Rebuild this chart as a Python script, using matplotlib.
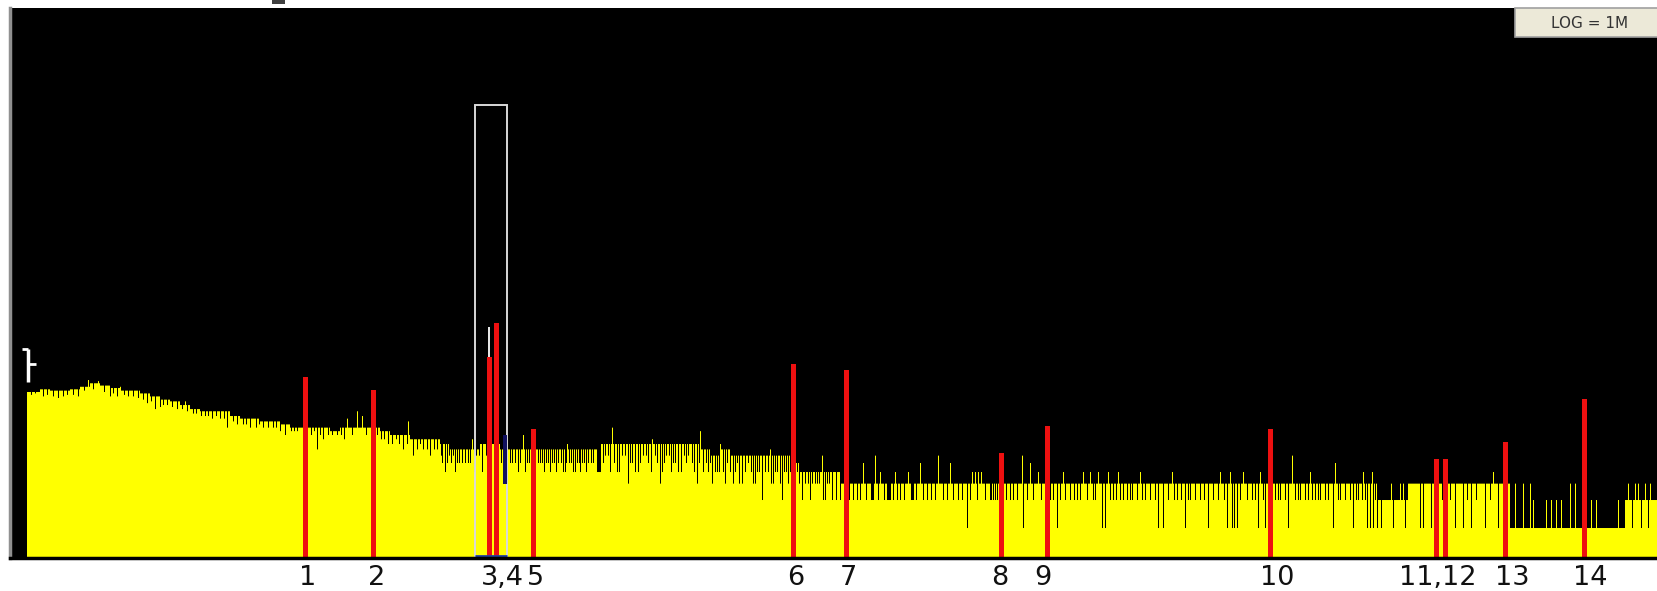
import numpy as np
import matplotlib
matplotlib.use("Agg")
import matplotlib.pyplot as plt
from matplotlib.patches import Rectangle
from matplotlib.transforms import blended_transform_factory

# Spectrum: base level per block (block start channel, counts)
base_start = [27, 40, 50, 60, 70, 80, 90, 100, 110, 120, 130, 140, 150, 160, 170,
              180, 190, 200, 210, 220, 230, 240, 250, 260, 270, 280, 290, 300, 310,
              320, 330, 340, 350, 360, 370, 380, 390, 400, 410, 420, 430, 440, 450,
              460, 470, 480, 490, 500, 510, 520, 530, 540, 550, 560, 570, 580, 590,
              600, 610, 620, 630, 640, 650, 660, 670, 680, 690, 700, 710, 720, 730,
              740, 750, 760, 770, 780, 790, 800, 840, 1378, 1408, 1510, 1625]
base_counts = [29, 31, 30, 30, 31, 33, 36, 34, 32, 30, 30, 28, 26, 24, 23,
               21, 19, 18, 18, 18, 16, 15, 15, 14, 14, 13, 12, 12, 12,
               12, 11, 12, 12, 12, 12, 11, 10, 10, 9, 9, 9, 8, 7,
               7, 7, 8, 8, 7, 7, 7, 7, 7, 7, 7, 7, 7, 7,
               8, 8, 8, 8, 8, 8, 8, 8, 8, 8, 7, 6, 7, 6,
               6, 6, 6, 6, 6, 5, 4, 3, 2, 3, 1, 2]

# single channels that fall below the base level (deeper dips)
dip_ch = [43, 53, 58, 78, 110, 117, 138, 147, 155, 160, 167, 177, 187, 193, 205,
          212, 220, 227, 237, 250, 263, 280, 285, 297,
          317, 323, 337, 352, 388, 403, 413, 423, 430, 445, 457, 465, 482, 507,
          518, 527, 550, 563, 573, 580, 597, 598, 599, 600, 617, 628, 638, 660,
          678, 697, 717, 723, 733, 742, 753, 762, 773, 782, 802, 808, 823, 832,
          853, 860, 871, 872, 873, 887, 888, 889, 890, 900, 911, 912, 913, 927,
          943, 953, 967, 970, 977, 990, 991, 993, 995, 997, 1010, 1017, 1023,
          1033, 1057, 1060, 1070, 1077, 1087, 1095, 1102,
          1105, 1113, 1123, 1127, 1132, 1137, 1145, 1150, 1158, 1163, 1168, 1177,
          1185, 1190, 1195, 1200, 1208, 1213, 1218, 1227, 1232, 1234, 1237, 1247,
          1252, 1258, 1265, 1270, 1275, 1280, 1288, 1295, 1300, 1305, 1315, 1320,
          1325, 1333, 1340, 1345, 1353, 1358, 1362, 1367, 1370, 1373, 1377,
          1381, 1393, 1405, 1420, 1423, 1431, 1436, 1442, 1450, 1455, 1463, 1467,
          1471, 1476, 1485, 1490, 1498, 1503, 1632, 1641, 1648]
dip_counts = [26, 26, 25, 26, 26, 26, 25, 22, 19, 20, 21, 19, 18, 17, 16,
              15, 15, 12, 13, 12, 12, 11, 10, 11,
              7, 9, 10, 10, 8, 7, 6, 7, 6, 4, 5, 5, 4, 3,
              4, 5, 4, 4, 4, 4, 4, 4, 4, 4, 4, 3, 4, 3,
              4, 3, 4, 4, 3, 3, 3, 2, 3, 2, 2, 3, 2, 2,
              2, 2, 2, 2, 2, 2, 2, 2, 2, 2, 2, 2, 2, 2,
              2, 2, 1, 2, 2, 2, 2, 2, 2, 2, 2, 2, 1,
              2, 1, 2, 2, 2, 2, 2, 1,
              1, 2, 2, 2, 2, 2, 2, 2, 1, 1, 2, 2,
              1, 2, 2, 2, 1, 2, 2, 1, 1, 1, 1, 2,
              2, 1, 1, 2, 2, 2, 1, 2, 2, 2, 2, 2,
              2, 1, 2, 2, 1, 2, 2, 1, 1, 1, 1,
              1, 1, 1, 1, 1, 1, 2, 2, 2, 1, 1, 2,
              1, 2, 1, 2, 1, 2, 1, 1, 1]

# shallow dips (the fine jagged edge)
fine_dip_ch = [31, 35, 47, 63, 67, 73, 84, 93, 104, 113, 124, 128, 133, 143, 151,
               163, 172, 182, 196, 201, 208, 216, 224, 233, 243, 246, 256, 259,
               268, 273, 276, 291, 294, 303, 311, 314, 320, 328, 332, 341, 344,
               366, 371, 377, 381, 384, 392, 396, 399, 407, 417, 420, 427, 434,
               437, 441, 449, 453, 468, 476, 479, 486, 512, 515, 531, 538, 542,
               546, 554, 558, 566, 569, 577, 584, 588, 591, 605, 608, 622, 625,
               632, 643, 646, 655, 666, 669, 673, 684, 688, 692, 706, 710, 727,
               730, 737, 745, 748, 757, 765, 768, 777, 786, 790, 797, 812, 815,
               819, 827,
               442, 447, 451, 455, 459, 462, 470, 474, 501, 504, 510, 520, 525,
               529, 540, 544, 548, 552, 556, 561, 565, 571, 575, 579, 582, 586,
               593, 603, 610, 614, 619, 630, 635, 640, 648, 651, 657, 662, 664,
               671, 675, 681, 686, 694, 699, 703, 708, 712, 715, 719, 725, 735,
               739, 751, 755, 759, 771, 775, 780, 784, 788, 793, 799, 805, 810,
               817, 825, 829,
               836, 840, 845, 849, 857, 866, 878, 884, 893, 897, 904, 916, 923,
               931, 935, 947, 958, 962, 985, 1006, 1013, 1027, 1041, 1050, 1053,
               1065, 1074, 1080, 1093, 1110, 1116, 1120, 1130, 1142, 1155, 1174,
               1181, 1188, 1204, 1224, 1240, 1255, 1263, 1278, 1285, 1298, 1308,
               1312, 1318, 1328, 1338, 1350, 1356, 1365, 1375]
fine_dip_counts = [27, 28, 27, 26, 27, 27, 30, 31, 29, 28, 27, 26, 26, 24, 23,
                   21, 20, 19, 17, 16, 16, 16, 15, 14, 13, 13, 12, 13,
                   12, 12, 12, 11, 11, 10, 10, 11, 10, 10, 10, 10, 9,
                   10, 9, 10, 9, 9, 8, 9, 8, 8, 7, 8, 7, 7,
                   7, 6, 6, 6, 5, 6, 6, 6, 5, 5, 5, 5, 5,
                   5, 5, 5, 5, 5, 5, 5, 5, 5, 6, 6, 6, 6,
                   5, 6, 6, 6, 6, 6, 5, 6, 6, 5, 5, 5, 5,
                   4, 5, 4, 5, 4, 4, 4, 4, 4, 4, 4, 3, 3,
                   3, 3,
                   5, 5, 5, 4, 5, 5, 5, 4, 5, 4, 5, 5, 4,
                   5, 5, 4, 5, 5, 4, 5, 4, 5, 4, 5, 5, 4,
                   5, 5, 4, 5, 4, 5, 4, 5, 5, 4, 5, 4, 5,
                   4, 5, 4, 5, 4, 5, 4, 4, 3, 4, 4, 3, 4,
                   3, 4, 3, 4, 3, 4, 3, 4, 3, 4, 3, 3, 2,
                   3, 2, 3,
                   2, 2, 2, 2, 2, 2, 2, 2, 2, 2, 2, 2, 2,
                   2, 2, 2, 2, 2, 2, 2, 2, 2, 2, 2, 2,
                   2, 2, 2, 2, 2, 2, 2, 2, 2, 2, 2,
                   2, 2, 2, 2, 2, 2, 2, 2, 2, 2, 2,
                   2, 2, 2, 2, 2, 2, 2, 2]

# single channels that rise above the base level
spike_ch = [88, 98, 120, 185, 347, 357, 362, 408, 472, 523, 567,
            612, 652, 700, 720, 770, 822,
            833, 863, 875, 880, 895, 908, 920, 938, 950, 972, 975, 978, 981,
            1022, 1030, 1038, 1045, 1063, 1083, 1090, 1098,
            1108, 1118, 1140, 1172, 1220, 1230, 1243, 1260, 1292, 1310, 1335,
            1363, 1372, 1391, 1400, 1403, 1493,
            1515, 1523, 1530, 1533, 1546, 1551, 1556, 1561, 1570, 1575, 1582,
            1591, 1596, 1618, 1628, 1635, 1638, 1645, 1650, 1655]
spike_counts = [39, 38, 33, 23, 15, 18, 16, 14, 9, 10, 8,
                12, 9, 11, 8, 7, 6,
                4, 5, 6, 4, 4, 4, 5, 6, 5, 4, 4, 4, 4,
                6, 5, 4, 5, 4, 4, 4, 4,
                4, 4, 4, 4, 4, 4, 4, 4, 6, 4, 5,
                4, 4, 3, 3, 3, 4,
                3, 3, 3, 2, 2, 2, 2, 2, 3, 3, 9,
                2, 2, 2, 3, 3, 3, 3, 3, 2]

# identified peaks (red)
peak_ch = [306, 374, 490, 497, 534, 794, 847, 1002, 1048, 1271, 1437, 1446, 1506, 1585]
peak_counts = [42, 30, 69, 160, 11, 57, 50, 6, 12, 11, 5, 5, 8, 24]
label_text = ["1", "2", "3,4", "5", "6", "7", "8", "9", "10", "11,12", "13", "14"]
label_ch = [308, 377, 502, 536, 796, 848, 1000, 1043, 1277, 1438, 1512, 1590]

# region of interest and cursors
roi_start, roi_end, roi_top = 475, 507, 35300
cursor_ch, cursor_lo, cursor_top = 489, 69, 145
marker_ch, marker_lo, marker_mid, marker_hi = 28.5, 37, 58, 84

n_ch = 1658
counts = np.zeros(n_ch)
for i, s in enumerate(base_start):
    e = base_start[i + 1] if i + 1 < len(base_start) else n_ch
    counts[s:e] = base_counts[i]
for c, v in zip(fine_dip_ch, fine_dip_counts):
    counts[c] = v
for c, v in zip(dip_ch, dip_counts):
    counts[c] = v
for c, v in zip(spike_ch, spike_counts):
    counts[c] = v

W, H = 1658, 591
fig = plt.figure(figsize=(W / 100, H / 100), dpi=100)
fig.patch.set_facecolor("white")
ax = fig.add_axes([10 / W, 33 / H, 1648 / W, 550 / H])
ax.set_facecolor("black")
ax.set_yscale("log")
ymin, ymax = 0.476, 3.9e5
ax.set_xlim(10, n_ch)
ax.set_ylim(ymin, ymax)

ax.stairs(counts[27:n_ch], np.arange(27, n_ch + 1), fill=True,
          color="#ffff00", baseline=ymin, lw=0)

ax.bar(peak_ch, peak_counts, width=5, bottom=ymin, color="#ee1010", lw=0)
ax.vlines(cursor_ch, cursor_lo, cursor_top, color="white", lw=1.3)

# region box
ax.add_patch(Rectangle((roi_start, ymin), roi_end - roi_start, roi_top - ymin,
                       fill=False, edgecolor="#d8d8d8", lw=1.4))
ax.hlines(ymin * 1.04, roi_start, roi_end, color="#2040a0", lw=2)
ax.bar(505, 7, width=4, bottom=3, color="#101060", lw=0)

# left marker
ax.vlines(marker_ch, marker_lo, marker_hi, color="white", lw=2.5)
ax.hlines(marker_hi, 22, marker_ch, color="white", lw=2)
ax.hlines(marker_mid, marker_ch, 36, color="white", lw=2)

ax.set_xticks([])
ax.set_yticks([])
ax.yaxis.set_minor_locator(matplotlib.ticker.NullLocator())
for side in ("top", "right"):
    ax.spines[side].set_visible(False)
ax.spines["left"].set_color("#909090")
ax.spines["left"].set_linewidth(2.5)
ax.spines["bottom"].set_color("black")
ax.spines["bottom"].set_linewidth(2.5)

# peak labels
tr = blended_transform_factory(ax.transData, fig.transFigure)
for t, c in zip(label_text, label_ch):
    ax.text(c, 13 / H, t, transform=tr, ha="center", va="center",
            fontsize=19.5, color="#111111", family="DejaVu Sans", clip_on=False)

# LOG button
fig.patches.append(Rectangle((1515 / W, (H - 37) / H), (W - 1515) / W, 29 / H,
                             transform=fig.transFigure, facecolor="#ece9d8",
                             edgecolor="#a0a0a0", lw=1.2))
fig.text(1590 / W, (H - 23) / H, "LOG = 1M", ha="center", va="center",
         fontsize=11, color="#333333", family="DejaVu Sans")
fig.patches.append(Rectangle((272 / W, (H - 4) / H), 13 / W, 4 / H,
                             transform=fig.transFigure, facecolor="#404040", lw=0))

fig.savefig("out.png", dpi=100)
